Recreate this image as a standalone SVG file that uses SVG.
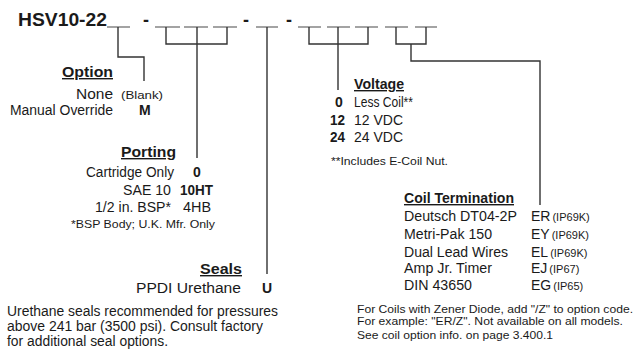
<svg xmlns="http://www.w3.org/2000/svg" width="635" height="349" viewBox="0 0 635 349">
<style>
text{font-family:"Liberation Sans",Arial,sans-serif;fill:#1a1a1a;font-size:14px}
.b{font-weight:bold}
.h{font-weight:bold;text-decoration:underline}
.s{font-size:11px}
.t{font-size:18px;font-weight:bold}
.u{stroke:#666;stroke-width:1.2;fill:none}
.c{stroke:#333;stroke-width:1.4;fill:none}
</style>
<rect width="635" height="349" fill="#fff"/>
<g id="title">
<text class="t" x="18" y="26" textLength="89" lengthAdjust="spacingAndGlyphs">HSV10-22</text>
<text class="t" x="143" y="26">-</text>
<text class="t" x="243" y="26">-</text>
<text class="t" x="286" y="26">-</text>
<g class="u">
<line x1="107" y1="27" x2="130" y2="27"/>
<line x1="155" y1="27" x2="180" y2="27"/>
<line x1="184" y1="27" x2="208" y2="27"/>
<line x1="213" y1="27" x2="237" y2="27"/>
<line x1="256" y1="27" x2="278" y2="27"/>
<line x1="298" y1="27" x2="321" y2="27"/>
<line x1="327" y1="27" x2="350" y2="27"/>
<line x1="355" y1="27" x2="378" y2="27"/>
<line x1="385" y1="27" x2="408" y2="27"/>
<line x1="415" y1="27" x2="437" y2="27"/>
</g>
</g>
<g id="connectors" class="c">
<path d="M118 27V57H144V81"/>
<path d="M166 27V44H227V27M197 27V158"/>
<path d="M267 27V274"/>
<path d="M309 27V44H368V27M338 27V90"/>
<path d="M396 27V44H426V27M411 44V61H540V205"/>
</g>
<g id="option">
<text class="h" x="62" y="77" font-size="15" textLength="51" lengthAdjust="spacingAndGlyphs">Option</text>
<text x="76" y="99" textLength="37" lengthAdjust="spacingAndGlyphs">None</text>
<text class="s" x="121" y="99" textLength="42" lengthAdjust="spacingAndGlyphs">(Blank)</text>
<text x="10" y="115" textLength="103" lengthAdjust="spacingAndGlyphs">Manual Override</text>
<text class="b" x="139" y="115">M</text>
</g>
<g id="porting">
<text class="h" x="121" y="157" font-size="15" textLength="55" lengthAdjust="spacingAndGlyphs">Porting</text>
<text x="86" y="177" textLength="88" lengthAdjust="spacingAndGlyphs">Cartridge Only</text>
<text class="b" x="193" y="177">0</text>
<text x="123" y="195" textLength="48" lengthAdjust="spacingAndGlyphs">SAE 10</text>
<text class="b" x="180" y="195" textLength="33" lengthAdjust="spacingAndGlyphs">10HT</text>
<text x="95" y="212" textLength="76" lengthAdjust="spacingAndGlyphs">1/2 in. BSP*</text>
<text x="183" y="212" textLength="28" lengthAdjust="spacingAndGlyphs">4HB</text>
<text class="s" x="71" y="228" textLength="144" lengthAdjust="spacingAndGlyphs">*BSP Body; U.K. Mfr. Only</text>
</g>
<g id="seals">
<text class="h" x="200" y="274" font-size="15" textLength="42" lengthAdjust="spacingAndGlyphs">Seals</text>
<text x="136" y="293" textLength="105" lengthAdjust="spacingAndGlyphs">PPDI Urethane</text>
<text class="b" x="262" y="293">U</text>
<text x="7" y="316" textLength="271" lengthAdjust="spacingAndGlyphs">Urethane seals recommended for pressures</text>
<text x="7" y="331" textLength="256" lengthAdjust="spacingAndGlyphs">above 241 bar (3500 psi). Consult factory</text>
<text x="7" y="346" textLength="161" lengthAdjust="spacingAndGlyphs">for additional seal options.</text>
</g>
<g id="voltage">
<text class="h" x="354" y="89" textLength="50" lengthAdjust="spacingAndGlyphs">Voltage</text>
<text class="b" x="335" y="107">0</text>
<text x="354" y="107" textLength="59" lengthAdjust="spacingAndGlyphs">Less Coil**</text>
<text class="b" x="330" y="125" textLength="15" lengthAdjust="spacingAndGlyphs">12</text>
<text x="354" y="125" textLength="49" lengthAdjust="spacingAndGlyphs">12 VDC</text>
<text class="b" x="330" y="142" textLength="15" lengthAdjust="spacingAndGlyphs">24</text>
<text x="354" y="142" textLength="49" lengthAdjust="spacingAndGlyphs">24 VDC</text>
<text class="s" x="331" y="165" textLength="117" lengthAdjust="spacingAndGlyphs">**Includes E-Coil Nut.</text>
</g>
<g id="coil-termination">
<text class="h" x="404" y="203" textLength="110" lengthAdjust="spacingAndGlyphs">Coil Termination</text>
<text x="404" y="221" textLength="113" lengthAdjust="spacingAndGlyphs">Deutsch DT04-2P</text>
<text x="531" y="221" font-size="15">ER<tspan class="s" dx="2">(IP69K)</tspan></text>
<text x="404" y="239" textLength="88" lengthAdjust="spacingAndGlyphs">Metri-Pak 150</text>
<text x="531" y="239" font-size="15">EY<tspan class="s" dx="2">(IP69K)</tspan></text>
<text x="404" y="257" textLength="104" lengthAdjust="spacingAndGlyphs">Dual Lead Wires</text>
<text x="531" y="257" font-size="15">EL<tspan class="s" dx="2">(IP69K)</tspan></text>
<text x="404" y="273" textLength="88" lengthAdjust="spacingAndGlyphs">Amp Jr. Timer</text>
<text x="531" y="273" font-size="15">EJ<tspan class="s" dx="2">(IP67)</tspan></text>
<text x="404" y="290" textLength="68" lengthAdjust="spacingAndGlyphs">DIN 43650</text>
<text x="531" y="290" font-size="15">EG<tspan class="s" dx="2">(IP65)</tspan></text>
<text class="s" x="357" y="313" textLength="276" lengthAdjust="spacingAndGlyphs">For Coils with Zener Diode, add "/Z" to option code.</text>
<text class="s" x="357" y="325" textLength="266" lengthAdjust="spacingAndGlyphs">For example: "ER/Z". Not available on all models.</text>
<text class="s" x="357" y="339" textLength="196" lengthAdjust="spacingAndGlyphs">See coil option info. on page 3.400.1</text>
</g>
</svg>
